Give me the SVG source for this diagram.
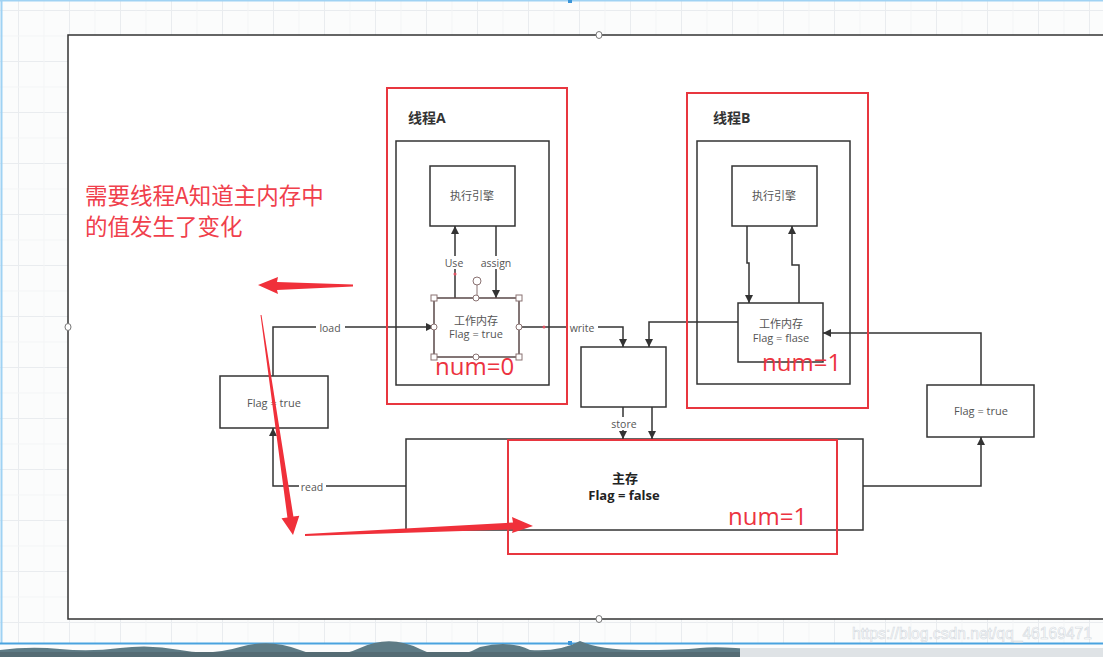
<svg xmlns="http://www.w3.org/2000/svg" width="1103" height="657" viewBox="0 0 1103 657">
<defs>
<pattern id="grid" x="18" y="10" width="51" height="51" patternUnits="userSpaceOnUse">
<path d="M0,0.5 H51 M0.5,0 V51" stroke="#e9ecef" stroke-width="1" fill="none"/>
<path d="M0,26 H51 M26,0 V51" stroke="#f3f5f6" stroke-width="1" fill="none"/>
</pattern>
<marker id="ah" viewBox="0 0 10 10" refX="10" refY="5" markerWidth="8" markerHeight="8" markerUnits="userSpaceOnUse" orient="auto">
<path d="M0,0 L10,5 L0,10 Z" fill="#333"/>
</marker>
<style>
.box{fill:#fff;stroke:#333;stroke-width:1.5}
.frame{fill:none;stroke:#333;stroke-width:1.5}
.redbox{fill:none;stroke:#e8363f;stroke-width:2}
.con{fill:none;stroke:#333;stroke-width:1.5}
.t{font-family:"Open Sans","Noto Sans CJK SC",sans-serif;font-size:11px;fill:#555;text-anchor:middle}
.lbl{font-family:"Open Sans","Noto Sans CJK SC",sans-serif;font-size:10.5px;fill:#555;text-anchor:middle}
.title{font-family:"Open Sans","Noto Sans CJK SC",sans-serif;font-size:14px;font-weight:bold;fill:#333}
.main{font-family:"Open Sans","Noto Sans CJK SC",sans-serif;font-size:13px;font-weight:bold;fill:#222;text-anchor:middle}
.num{font-family:"Open Sans","Noto Sans CJK SC",sans-serif;font-size:24px;fill:#ec3340}
.note{font-family:"Noto Sans CJK SC",sans-serif;font-size:22.5px;fill:#f0404c}
.hsq{fill:#fff;stroke:#8a7272;stroke-width:1}
.red{fill:#f0303a}
</style>
</defs>

<!-- background canvas -->
<rect x="0" y="0" width="1103" height="657" fill="#fbfcfc"/>
<rect x="0" y="0" width="1103" height="644" fill="url(#grid)"/>
<line x1="0" y1="0.8" x2="1103" y2="0.8" stroke="#9fd2f3" stroke-width="1.5"/>
<line x1="1.5" y1="0" x2="1.5" y2="644" stroke="#9fd2f3" stroke-width="2"/>
<rect x="568" y="0" width="4" height="3" fill="#3b95d8"/>

<!-- frame -->
<rect x="68" y="35" width="1045" height="584" fill="#fff"/>
<rect class="frame" x="68" y="35" width="1045" height="584"/>
<ellipse cx="599" cy="35" rx="3" ry="3.5" fill="#fff" stroke="#777"/>
<ellipse cx="599" cy="619" rx="3" ry="3.5" fill="#fff" stroke="#777"/>
<ellipse cx="68" cy="327" rx="3" ry="3.5" fill="#fff" stroke="#777"/>

<!-- bottom strip -->
<line x1="0" y1="643.5" x2="1103" y2="643.5" stroke="#4aa3df" stroke-width="2"/>
<rect x="568" y="641" width="4" height="4" fill="#3b95d8"/>
<path d="M0,657 V650 Q30,646 60,649 T120,648 T180,650 T240,647 T300,650 T360,648 T420,649 T480,647 Q510,640 530,650 Q560,652 580,641 Q600,650 640,650 T700,648 T760,650 V657 Z" fill="#5e7b85"/>
<rect x="0" y="652" width="760" height="5" fill="#556c74"/>
<rect x="740" y="648" width="363" height="9" fill="#dfe3e6"/>
<text x="852" y="639" font-family="'Liberation Sans',sans-serif" font-size="16" fill="#ffffff" stroke="#d3d9de" stroke-width="0.6" textLength="240" lengthAdjust="spacingAndGlyphs">https://blog.csdn.net/qq_46169471</text>

<!-- thread A -->
<g id="threadA">
<rect class="box" x="396" y="141" width="153" height="244"/>
<text class="title" x="408" y="123">线程A</text>
</g>
<g id="execA">
<rect class="box" x="430" y="166" width="85" height="60"/>
<text class="t" x="472" y="200">执行引擎</text>
</g>

<!-- thread B -->
<g id="threadB">
<rect class="box" x="697" y="141" width="153" height="243"/>
<text class="title" x="713" y="123">线程B</text>
</g>
<g id="execB">
<rect class="box" x="732" y="166" width="85" height="60"/>
<text class="t" x="774" y="200">执行引擎</text>
</g>

<g id="flagLeft">
<rect class="box" x="220" y="376" width="108" height="52"/>
<text class="t" x="274" y="407">Flag = true</text>
</g>
<g id="flagRight">
<rect class="box" x="927" y="385" width="107" height="52"/>
<text class="t" x="981" y="415">Flag = true</text>
</g>
<g id="storeBox">
<rect class="box" x="581" y="347" width="85" height="60"/>
</g>
<g id="mainMem">
<rect class="box" x="406" y="439" width="457" height="91"/>
<text class="main" x="625" y="483">主存</text>
<text class="main" x="624" y="500">Flag = false</text>
</g>

<!-- connectors -->
<g id="connectors">
<path class="con" d="M273,376 V327 H434" marker-end="url(#ah)"/>
<path class="con" d="M406,486 H273 V428" marker-end="url(#ah)"/>
<path class="con" d="M455,298 V226" marker-end="url(#ah)"/>
<path class="con" d="M496,226 V298" marker-end="url(#ah)"/>
<path class="con" d="M519,327 H623 V347" marker-end="url(#ah)"/>
<path class="con" d="M738,322 H649 V347" marker-end="url(#ah)"/>
<path class="con" d="M747,226 V263 H749 V303" marker-end="url(#ah)"/>
<path class="con" d="M799,303 V265 H792 V226" marker-end="url(#ah)"/>
<path class="con" d="M623,407 V439" marker-end="url(#ah)"/>
<path class="con" d="M652,407 V439" marker-end="url(#ah)"/>
<path class="con" d="M863,486 H981 V437" marker-end="url(#ah)"/>
<path class="con" d="M981,385 V333 H823" marker-end="url(#ah)"/>
<rect x="316" y="321" width="29" height="13" fill="#fff"/>
<text class="lbl" x="330" y="332">load</text>
<rect x="299" y="480" width="27" height="13" fill="#fff"/>
<text class="lbl" x="312" y="491">read</text>
<rect x="567" y="321" width="31" height="13" fill="#fff"/>
<text class="lbl" x="582" y="332">write</text>
<rect x="609" y="417" width="31" height="13" fill="#fff"/>
<text class="lbl" x="624" y="428">store</text>
<rect x="443" y="256" width="23" height="13" fill="#fff"/>
<text class="lbl" x="454" y="267">Use</text>
<rect x="478" y="256" width="37" height="13" fill="#fff"/>
<text class="lbl" x="496" y="267">assign</text>
<circle cx="455" cy="274" r="1.5" fill="#e05060"/>
<circle cx="544" cy="327" r="1.5" fill="#e05060"/>
</g>

<!-- working memory A (selected) -->
<g id="workA">
<rect x="434" y="298" width="85" height="59" fill="#fff" stroke="#5a4848" stroke-width="1.5"/>
<text class="t" x="476" y="325">工作内存</text>
<text class="t" x="476" y="338">Flag = true</text>
<line x1="477" y1="285" x2="477" y2="298" stroke="#8a7272"/>
<circle cx="477" cy="281" r="4" fill="#fff" stroke="#8a7272"/>
<rect class="hsq" x="431" y="295" width="6" height="6"/>
<rect class="hsq" x="516" y="295" width="6" height="6"/>
<rect class="hsq" x="431" y="354" width="6" height="6"/>
<rect class="hsq" x="516" y="354" width="6" height="6"/>
<circle class="hsq" cx="476" cy="298" r="3"/>
<circle class="hsq" cx="476" cy="357" r="3"/>
<circle class="hsq" cx="434" cy="327" r="3"/>
<circle class="hsq" cx="519" cy="327" r="3"/>
</g>

<g id="workB">
<rect class="box" x="738" y="303" width="85" height="59"/>
<text class="t" x="781" y="328">工作内存</text>
<text class="t" x="781" y="342">Flag = flase</text>
</g>

<!-- red annotations -->
<g id="annotations">
<rect class="redbox" x="387" y="88" width="180" height="316"/>
<rect class="redbox" x="687" y="93" width="181" height="315"/>
<rect class="redbox" x="508" y="440" width="329" height="114"/>
<text class="num" x="435" y="375">num=0</text>
<text class="num" x="762" y="371">num=1</text>
<text class="num" x="728" y="525">num=1</text>
<text class="note" x="85" y="204">需要线程A知道主内存中</text>
<text class="note" x="85" y="235">的值发生了变化</text>
<polygon class="red" points="258,285 278,277 277,282 353,284.5 353,286.5 277,290 278,294"/>
<polygon class="red" points="261.5,314.9 293.4,516.6 299.3,515.7 293,535 281.5,518.3 287.4,517.4 260.5,315.1"/>
<polygon class="red" points="305,534 513,522.5 512,517 533,526 512,533 513,529.5 305,536"/>
</g>
</svg>
